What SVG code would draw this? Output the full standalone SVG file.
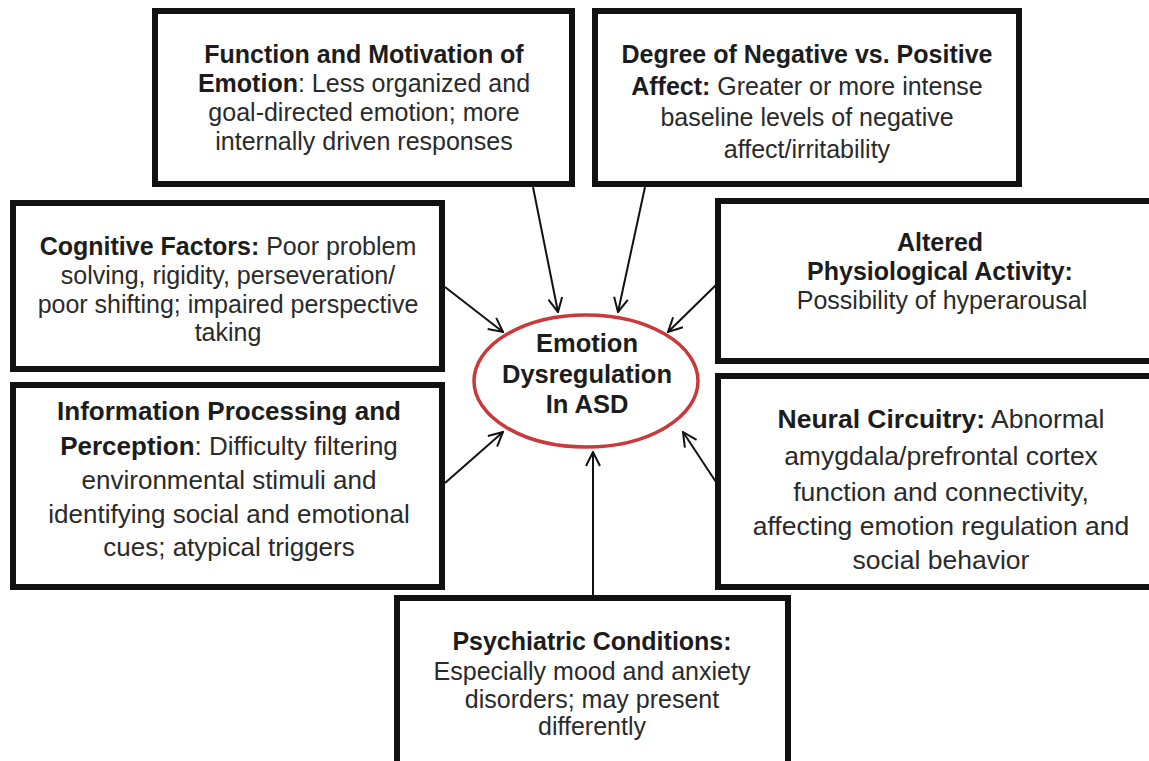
<svg xmlns="http://www.w3.org/2000/svg" width="1149" height="761" viewBox="0 0 1149 761">
<style>
.box{fill:#fff;stroke:#111;stroke-width:6}
.t{font-family:"Liberation Sans",Arial,sans-serif;font-size:25px;fill:#2a2a2a;text-anchor:middle}
.b{font-weight:bold;fill:#1c1c1c}
.c{fill:none;stroke:#111;stroke-width:2}
</style>
<defs>
<marker id="ah" viewBox="0 0 16 16" refX="15" refY="8" markerWidth="16" markerHeight="16" markerUnits="userSpaceOnUse" orient="auto">
<path d="M1,1 L15,8 L1,15" fill="none" stroke="#111" stroke-width="2"/>
</marker>
</defs>
<rect width="1149" height="761" fill="#fff"/>
<g id="connectors">
<line class="c" x1="533" y1="187" x2="558" y2="312" marker-end="url(#ah)"/>
<line class="c" x1="645" y1="187" x2="618" y2="312" marker-end="url(#ah)"/>
<line class="c" x1="445" y1="287" x2="503" y2="332" marker-end="url(#ah)"/>
<line class="c" x1="716" y1="285" x2="668" y2="332" marker-end="url(#ah)"/>
<line class="c" x1="445" y1="483" x2="503" y2="432" marker-end="url(#ah)"/>
<line class="c" x1="716" y1="482" x2="683" y2="432" marker-end="url(#ah)"/>
<line class="c" x1="593" y1="596" x2="593" y2="452" marker-end="url(#ah)"/>
</g>
<g id="center">
<ellipse cx="586" cy="381" rx="112" ry="66" fill="#fff" stroke="#c9393b" stroke-width="3.5"/>
<text class="t b" style="font-size:25.5px"><tspan x="587" y="352">Emotion</tspan><tspan x="587" y="383">Dysregulation</tspan><tspan x="587" y="413">In ASD</tspan></text>
</g>
<g id="function">
<rect class="box" x="155" y="11" width="417" height="173"/>
<text class="t"><tspan x="364" y="63" class="b">Function and Motivation of</tspan><tspan x="364" y="92"><tspan class="b">Emotion</tspan>: Less organized and</tspan><tspan x="364" y="121">goal-directed emotion; more</tspan><tspan x="364" y="150">internally driven responses</tspan></text>
</g>
<g id="degree">
<rect class="box" x="595" y="11" width="424" height="173"/>
<text class="t"><tspan x="807" y="63" class="b">Degree of Negative vs. Positive</tspan><tspan x="807" y="95"><tspan class="b">Affect:</tspan> Greater or more intense</tspan><tspan x="807" y="126">baseline levels of negative</tspan><tspan x="807" y="158">affect/irritability</tspan></text>
</g>
<g id="cognitive">
<rect class="box" x="13" y="203" width="429" height="166"/>
<text class="t"><tspan x="228" y="255"><tspan class="b">Cognitive Factors:</tspan> Poor problem</tspan><tspan x="228" y="284">solving, rigidity, perseveration/</tspan><tspan x="228" y="313">poor shifting; impaired perspective</tspan><tspan x="228" y="341">taking</tspan></text>
</g>
<g id="physiological">
<rect class="box" x="718" y="201" width="445" height="160"/>
<text class="t"><tspan x="940" y="251" class="b">Altered</tspan><tspan x="940" y="280" class="b">Physiological Activity:</tspan><tspan x="942" y="309">Possibility of hyperarousal</tspan></text>
</g>
<g id="information">
<rect class="box" x="13" y="385" width="429" height="202"/>
<text class="t" style="font-size:26px"><tspan x="229" y="420" class="b">Information Processing and</tspan><tspan x="229" y="455"><tspan class="b">Perception</tspan>: Difficulty filtering</tspan><tspan x="229" y="489">environmental stimuli and</tspan><tspan x="229" y="523">identifying social and emotional</tspan><tspan x="229" y="556">cues; atypical triggers</tspan></text>
</g>
<g id="neural">
<rect class="box" x="718" y="376" width="445" height="211"/>
<text class="t" style="font-size:26.5px"><tspan x="941" y="428"><tspan class="b">Neural Circuitry:</tspan> Abnormal</tspan><tspan x="941" y="465">amygdala/prefrontal cortex</tspan><tspan x="941" y="501">function and connectivity,</tspan><tspan x="941" y="535">affecting emotion regulation and</tspan><tspan x="941" y="569">social behavior</tspan></text>
</g>
<g id="psychiatric">
<rect class="box" x="397" y="598" width="391" height="175"/>
<text class="t"><tspan x="592" y="650" class="b">Psychiatric Conditions:</tspan><tspan x="592" y="680">Especially mood and anxiety</tspan><tspan x="592" y="708">disorders; may present</tspan><tspan x="592" y="735">differently</tspan></text>
</g>
</svg>
